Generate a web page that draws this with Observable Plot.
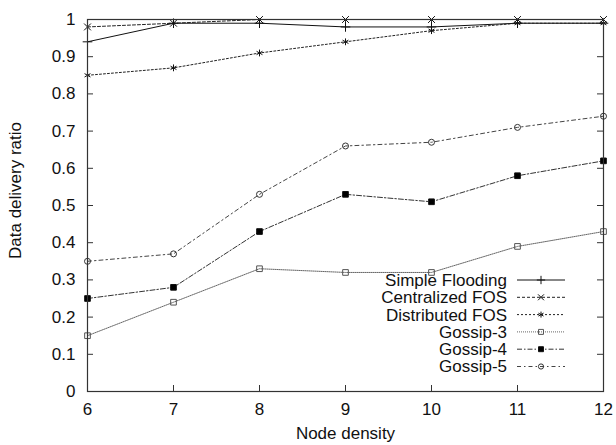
<!DOCTYPE html>
<html>
<head>
<meta charset="utf-8">
<script src="https://cdn.jsdelivr.net/npm/d3@7"></script>
<script src="https://cdn.jsdelivr.net/npm/@observablehq/plot@0.6"></script>
<style>
  html, body { margin: 0; padding: 0; background: #fff; }
  #wrap { position: relative; width: 616px; height: 445px; font-family: "Liberation Sans", Arial, sans-serif; }
  #legend { position: absolute; left: 0; top: 0; }
</style>
</head>
<body>
<div id="wrap"></div>
<script>
// ---- data ----
const nodeDensity = [6, 7, 8, 9, 10, 11, 12];
const seriesNames = ["Simple Flooding", "Centralized FOS", "Distributed FOS", "Gossip-3", "Gossip-4", "Gossip-5"];
const simpleFlooding = [0.94, 0.99, 0.99, 0.98, 0.98, 0.99, 0.99];
const centralizedFOS = [0.98, 0.99, 1.00, 1.00, 1.00, 1.00, 1.00];
const distributedFOS = [0.85, 0.87, 0.91, 0.94, 0.97, 0.99, 0.99];
const gossip3 = [0.15, 0.24, 0.33, 0.32, 0.32, 0.39, 0.43];
const gossip4 = [0.25, 0.28, 0.43, 0.53, 0.51, 0.58, 0.62];
const gossip5 = [0.35, 0.37, 0.53, 0.66, 0.67, 0.71, 0.74];
const xTicks = [6, 7, 8, 9, 10, 11, 12];
const yTicks = [0, 0.1, 0.2, 0.3, 0.4, 0.5, 0.6, 0.7, 0.8, 0.9, 1];
const xLabel = "Node density";
const yLabel = "Data delivery ratio";

// ---- styles ----
const seriesValues = [simpleFlooding, centralizedFOS, distributedFOS, gossip3, gossip4, gossip5];
const styles = [
  {stroke: "#111", dash: null, symbol: "plus", fill: "none", r: 3.2, mstroke: "#111"},
  {stroke: "#222", dash: "3,2", symbol: "times", fill: "none", r: 3.2, mstroke: "#111"},
  {stroke: "#222", dash: "2,2", symbol: "asterisk", fill: "none", r: 3.2, mstroke: "#111"},
  {stroke: "#666", dash: "1,1", symbol: "square", fill: "none", r: 3.2, mstroke: "#555"},
  {stroke: "#333", dash: "5,2,1.5,2", symbol: "square", fill: "#000", r: 3.2, mstroke: "#111"},
  {stroke: "#444", dash: "4,3,1.5,3", symbol: "circle", fill: "none", r: 3.0, mstroke: "#333"}
];

const rows = [];
seriesNames.forEach((name, i) => {
  nodeDensity.forEach((x, j) => rows.push({series: name, idx: i, x, y: seriesValues[i][j]}));
});

const W = 616, H = 445, mL = 87, mR = 13, mT = 19, mB = 54;
const pw = W - mL - mR, ph = H - mT - mB;
const FONT = 17;

const marks = [];
// inward ticks on all four sides
marks.push(Plot.tickX(xTicks, {x: d => d, insetTop: ph - 6, stroke: "#333"}));
marks.push(Plot.tickX(xTicks, {x: d => d, insetBottom: ph - 6, stroke: "#333"}));
marks.push(Plot.tickY(yTicks, {y: d => d, insetRight: pw - 6, stroke: "#333"}));
marks.push(Plot.tickY(yTicks, {y: d => d, insetLeft: pw - 6, stroke: "#333"}));
// tick labels
marks.push(Plot.axisX({ticks: xTicks, tickSize: 0, tickPadding: 11, label: null, fontSize: FONT, fill: "#111",
  tickFormat: d => String(d)}));
marks.push(Plot.axisY({ticks: yTicks, tickSize: 0, tickPadding: 12, label: null, fontSize: FONT, fill: "#111",
  tickFormat: d => String(+d.toFixed(1))}));
// series
seriesNames.forEach((name, i) => {
  const st = styles[i];
  const data = rows.filter(r => r.idx === i);
  marks.push(Plot.line(data, {x: "x", y: "y", stroke: st.stroke, strokeWidth: 1, strokeDasharray: st.dash}));
});
seriesNames.forEach((name, i) => {
  const st = styles[i];
  const data = rows.filter(r => r.idx === i);
  marks.push(Plot.dot(data, {x: "x", y: "y", symbol: () => st.symbol, r: st.r,
    stroke: st.mstroke, fill: st.fill, strokeWidth: 1}));
});
marks.push(Plot.frame({stroke: "#333", strokeWidth: 1.2}));
// axis titles
marks.push(Plot.text([xLabel], {frameAnchor: "bottom", lineAnchor: "middle", textAnchor: "middle", dy: 42, fontSize: FONT, fill: "#111"}));
marks.push(Plot.text([yLabel], {frameAnchor: "left", rotate: -90, textAnchor: "middle", lineAnchor: "middle", dx: -72, dy: -15, fontSize: FONT, fill: "#111"}));

const chart = Plot.plot({
  width: W, height: H,
  marginLeft: mL, marginRight: mR, marginTop: mT, marginBottom: mB,
  style: {fontFamily: "Liberation Sans, Arial, sans-serif", fontSize: FONT + "px", background: "#fff", overflow: "visible"},
  x: {domain: [6, 12]},
  y: {domain: [0, 1]},
  symbol: {type: "identity"},
  marks
});
const wrap = document.getElementById("wrap");
wrap.appendChild(chart);

// ---- legend overlay ----
const symMap = {plus: d3.symbolPlus, times: d3.symbolTimes, asterisk: d3.symbolAsterisk, square: d3.symbolSquare, circle: d3.symbolCircle};
const leg = d3.select(wrap).append("svg").attr("id", "legend").attr("width", W).attr("height", H)
  .style("font-family", "Liberation Sans, Arial, sans-serif").style("font-size", FONT + "px");
const textRight = 507, lineX1 = 517, lineX2 = 565, row0 = 280, rowStep = 17.3;
seriesNames.forEach((name, i) => {
  const st = styles[i];
  const y = row0 + i * rowStep;
  leg.append("text").attr("x", textRight).attr("y", y).attr("dy", "0.35em").attr("text-anchor", "end").attr("fill", "#111").text(name);
  leg.append("line").attr("x1", lineX1).attr("x2", lineX2).attr("y1", y).attr("y2", y)
    .attr("stroke", st.stroke).attr("stroke-width", 1).attr("stroke-dasharray", st.dash);
  leg.append("path").attr("transform", `translate(${(lineX1 + lineX2) / 2},${y})`)
    .attr("d", d3.symbol(symMap[st.symbol], Math.PI * (st.r - 0.4) * (st.r - 0.4))())
    .attr("stroke", st.mstroke).attr("fill", st.fill).attr("stroke-width", 1);
});
</script>
</body>
</html>
